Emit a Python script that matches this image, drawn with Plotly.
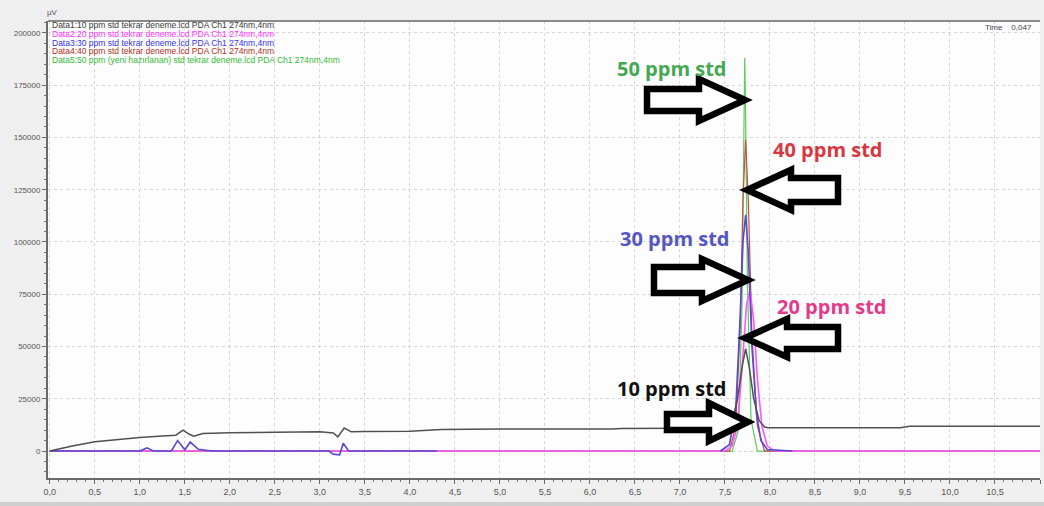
import plotly.graph_objects as go

# ---- chromatogram data (time in min, signal in µV) ----
# Data1: 10 ppm std (drifting baseline)
t_10 = [0.0, 0.1, 0.25, 0.5, 0.75, 1.0, 1.25, 1.4, 1.48, 1.55, 1.6, 1.7, 2.0, 2.5, 2.8,
        3.0, 3.15, 3.2, 3.27, 3.35, 3.5, 4.0, 4.35, 5.0, 6.25, 6.35, 7.0, 7.5, 7.58,
        7.64, 7.69, 7.73, 7.77, 7.82, 7.88, 7.94, 7.98, 8.5, 9.0, 9.45, 9.55, 10.0, 11.0]
v_10 = [0, 1000, 2400, 4400, 5600, 6500, 7200, 7600, 10000, 8000, 7100, 8400, 8700, 8800, 9200,
        9200, 8600, 6800, 11000, 9200, 9300, 9500, 10300, 10500, 10500, 10800, 10900, 11200, 14000,
        25000, 40000, 49000, 40000, 25000, 14500, 11500, 11100, 11100, 11100, 11100, 11900, 11900, 11900]

# Data2: 20 ppm std
t_20 = [0.0, 7.5, 7.58, 7.64, 7.69, 7.74, 7.78, 7.82, 7.86, 7.91, 7.97, 8.05, 11.0]
v_20 = [0, 0, 2500, 12000, 40000, 70000, 77000, 62000, 35000, 12000, 2500, 0, 0]

# Data3: 30 ppm std (early part and peak region)
t_30 = [0.0, 0.3, 1.0, 1.08, 1.15, 1.35, 1.42, 1.5, 1.56, 1.65, 1.8, 3.1, 3.15, 3.22, 3.26,
        3.32, 4.3, None, 7.45, 7.55, 7.62, 7.67, 7.7, 7.73, 7.76, 7.8, 7.85, 7.9, 7.97, 8.25]
v_30 = [0, 0, 0, 1500, 0, 0, 5000, 600, 4300, 800, 0, 0, -1500, -1800, 3700,
        0, 0, None, 0, 3000, 20000, 65000, 100000, 113000, 95000, 50000, 18000, 5000, 700, 0]

# Data4: 40 ppm std
t_40 = [0.0, 7.55, 7.62, 7.67, 7.7, 7.73, 7.76, 7.8, 7.86, 7.94, 11.0]
v_40 = [0, 0, 12000, 60000, 120000, 149000, 120000, 55000, 12000, 0, 0]

# Data5: 50 ppm std
t_50 = [0.0, 7.58, 7.65, 7.69, 7.71, 7.72, 7.73, 7.75, 7.79, 7.86, 11.0]
v_50 = [0, 0, 10000, 70000, 150000, 188000, 160000, 80000, 15000, 0, 0]

legend_lines = [
    "Data1:10 ppm std tekrar deneme.lcd PDA Ch1 274nm,4nm",
    "Data2:20 ppm std tekrar deneme.lcd PDA Ch1 274nm,4nm",
    "Data3:30 ppm std tekrar deneme.lcd PDA Ch1 274nm,4nm",
    "Data4:40 ppm std tekrar deneme.lcd PDA Ch1 274nm,4nm",
    "Data5:50 ppm (yeni hazırlanan) std tekrar deneme.lcd PDA Ch1 274nm,4nm",
]
legend_colors = ["#3a3a3a", "#ff33ff", "#3333ee", "#b03020", "#33bb33"]

x_tickvals = [i * 0.5 for i in range(23)]
x_ticktext = [f"{v:.1f}".replace(".", ",") for v in x_tickvals[:-1]] + ["11"]
y_tickvals = [0, 25000, 50000, 75000, 100000, 125000, 150000, 175000, 200000]

# peak labels: text, time, signal, colour
peak_labels = [
    ("50 ppm std", 6.91, 183200, "#45a853"),
    ("40 ppm std", 8.645, 144000, "#d8373f"),
    ("30 ppm std", 6.95, 101900, "#5656c0"),
    ("20 ppm std", 8.69, 69000, "#e33a8a"),
    ("10 ppm std", 6.91, 30150, "#111111"),
]
# block arrows: tip time, tip signal, direction, length, head length, shaft half, head half (px)
arrows = [
    (7.723, 167900, +1, 98, 46, 11, 21),
    (7.745, 124900, -1, 91, 44, 12, 20),
    (7.756, 81800, +1, 94, 46, 13, 21),
    (7.723, 54100, -1, 93, 42, 11, 19),
    (7.756, 13900, +1, 81, 39, 8, 19),
]

X_RANGE = [-0.02, 11.0]
Y_RANGE = [-12900, 205700]
W, H = 1044, 506
M = dict(l=48, r=4, t=21, b=28)
PW = W - M["l"] - M["r"]
PH = H - M["t"] - M["b"]
sx = (X_RANGE[1] - X_RANGE[0]) / PW   # time per px
sy = (Y_RANGE[1] - Y_RANGE[0]) / PH   # µV per px

SMALL_FONT = "Liberation Sans, Arial, sans-serif"

fig = go.Figure()
series = [
    (t_50, v_50, "#5ccc5c", 1.2),
    (t_40, v_40, "#c0504a", 1.2),
    (t_20, v_20, "#ff55ff", 1.6),
    (t_30, v_30, "#5a48d0", 1.6),
    (t_10, v_10, "#505050", 1.5),
]
for tx, vy, col, w in series:
    fig.add_trace(go.Scatter(x=tx, y=vy, mode="lines", line=dict(color=col, width=w),
                             connectgaps=False, showlegend=False, hoverinfo="skip"))

shapes = []
for tt, tv, d, L, HL, sh, hh in arrows:
    def P(dx, dy):
        return f"{tt + d * dx * sx:.4f},{tv + dy * sy:.1f}"
    path = ("M" + P(0, 0) + " L" + P(-HL, hh) + " L" + P(-HL, sh) + " L" + P(-L, sh)
            + " L" + P(-L, -sh) + " L" + P(-HL, -sh) + " L" + P(-HL, -hh) + " Z")
    shapes.append(dict(type="path", path=path, xref="x", yref="y",
                       line=dict(color="black", width=6.5), fillcolor="white", layer="above"))

annotations = []
for txt, tt, tv, col in peak_labels:
    annotations.append(dict(x=tt, y=tv, xref="x", yref="y", text=f"<b>{txt}</b>", showarrow=False,
                            font=dict(family="Open Sans", size=20, color=col)))
for idx, (txt, col) in enumerate(zip(legend_lines, legend_colors)):
    annotations.append(dict(x=2 / PW, y=1 - (25 - M["t"] + idx * 8.8) / PH,
                            xref="x domain", yref="y domain",
                            text=txt, showarrow=False, xanchor="left", yanchor="middle",
                            font=dict(family=SMALL_FONT, size=8.5, color=col)))
annotations.append(dict(x=-0.003, y=1 + 9 / PH, xref="x domain", yref="y domain", text="µV",
                        showarrow=False, xanchor="left", yanchor="middle",
                        font=dict(family=SMALL_FONT, size=8, color="#555")))
annotations.append(dict(x=1 - 6 / PW, y=1 - 7 / PH, xref="x domain", yref="y domain",
                        text="Time&nbsp;&nbsp;&nbsp;&nbsp;0,047", showarrow=False,
                        xanchor="right", yanchor="middle",
                        font=dict(family=SMALL_FONT, size=8, color="#444")))

# bottom band
shapes.append(dict(type="rect", xref="paper", yref="paper", x0=-1, x1=2,
                   y0=-M["b"] / PH - 0.01, y1=-(M["b"] - 4) / PH,
                   fillcolor="#cfcfcf", line=dict(width=0), layer="below"))
# top frame line
shapes.append(dict(type="line", xref="x domain", yref="y domain", x0=0, x1=1, y0=1, y1=1,
                   line=dict(color="#8a8a8a", width=2)))

fig.update_layout(
    width=W, height=H, margin=M,
    paper_bgcolor="#efefef", plot_bgcolor="#fdfdfd",
    shapes=shapes, annotations=annotations,
    xaxis=dict(range=X_RANGE, tickvals=x_tickvals, ticktext=x_ticktext,
               showgrid=True, gridcolor="#d6d6d6", griddash="dot", gridwidth=1,
               zeroline=False, showline=True, linecolor="#6a6a6a", linewidth=2,
               ticks="outside", ticklen=4, tickcolor="#6a6a6a",
               minor=dict(dtick=0.1, ticks="outside", ticklen=2, tickcolor="#777", showgrid=False),
               tickfont=dict(family=SMALL_FONT, size=9, color="#555")),
    yaxis=dict(range=Y_RANGE, tickvals=y_tickvals, ticktext=[str(v) for v in y_tickvals],
               showgrid=True, gridcolor="#d6d6d6", griddash="dot", gridwidth=1,
               zeroline=False, showline=True, linecolor="#6a6a6a", linewidth=2,
               ticks="outside", ticklen=4, tickcolor="#6a6a6a",
               minor=dict(dtick=5000, ticks="outside", ticklen=2, tickcolor="#777", showgrid=False),
               tickfont=dict(family=SMALL_FONT, size=8, color="#555")),
)

fig.write_html("out.html")
